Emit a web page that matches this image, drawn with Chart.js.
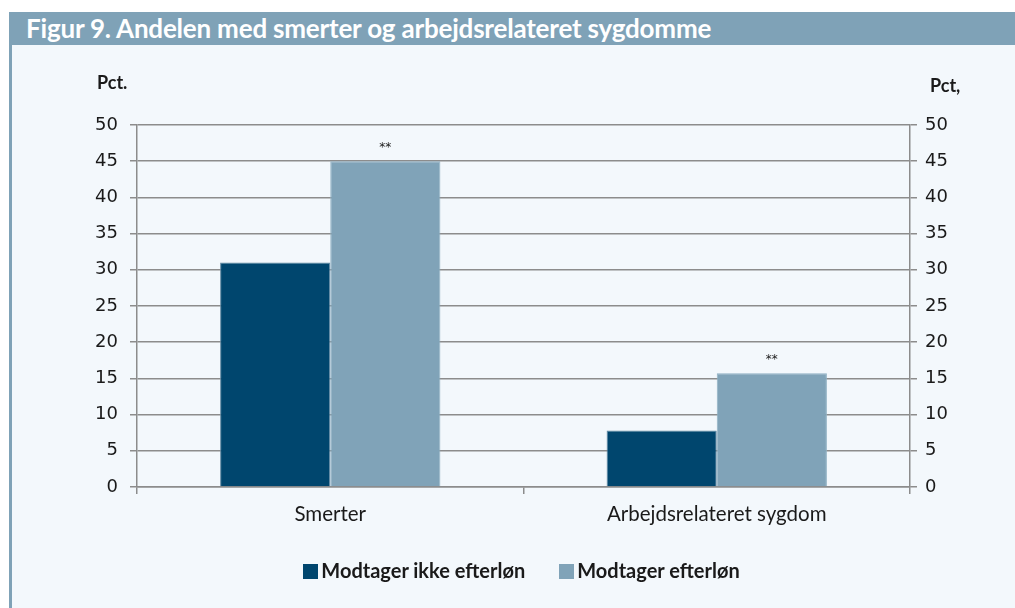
<!DOCTYPE html>
<html>
<head>
<meta charset="utf-8">
<script src="https://cdn.jsdelivr.net/npm/chart.js@4"></script>
<style>
	body { margin: 0; background: #ffffff; width: 1015px; height: 608px; overflow: hidden; }
	#title {
		position: absolute; left: 9px; top: 12px; width: 1006px; height: 33px;
		background: #7fa2b7; color: #ffffff;
		font: bold 26px Lato, sans-serif; line-height: 33px; padding-left: 17px; box-sizing: border-box;
		letter-spacing: -0.2px;
	}
	#panel {
		position: absolute; left: 9px; top: 45px; width: 1006px; height: 563px;
		background: #f3f8fc; border-left: 3px solid #7fa2b7; box-sizing: border-box;
	}
	#wrap { position: absolute; left: 0; top: 0; width: 1003px; height: 563px; }
	#legend {
		position: absolute; left: 0; top: 513px; width: 1003px; text-align: center;
		font: bold 20px Lato, sans-serif; color: #1a1a1a; padding-left: 16px; box-sizing: border-box;
	}
	#legend span.item { display: inline-block; margin: 0 17px; }
	#legend span.box { display: inline-block; width: 15px; height: 15px; margin-right: 3px; vertical-align: -1px; }
</style>
</head>
<body>
<div id="title">Figur 9. Andelen med smerter og arbejdsrelateret sygdomme</div>
<div id="panel"><div id="wrap"><canvas id="chart"></canvas></div><div id="legend"></div></div>
<script>
const categories = ["Smerter", "Arbejdsrelateret sygdom"]
const ikkeEfterlon = [31, 7.8]
const efterlon = [45, 15.7]
const efterlonMarks = ["**", "**"]

const gridColor = "#8c8c8c"
const tickFont = { family: "'DejaVu Sans', sans-serif", size: 18 }

const overlay = {
	id: "overlay",
	afterDatasetsDraw(chart) {
		const ctx = chart.ctx
		const area = chart.chartArea
		ctx.save()
		ctx.fillStyle = "#1a1a1a"
		ctx.font = "bold 18px Lato, sans-serif"
		ctx.textBaseline = "middle"
		ctx.textAlign = "left"
		ctx.fillText("Pct.", area.left - 40, 38)
		ctx.fillText("Pct,", area.right + 20, 41)
		ctx.font = "12px 'DejaVu Sans', sans-serif"
		ctx.textAlign = "center"
		chart.getDatasetMeta(1).data.forEach((bar, i) => {
			ctx.fillText(efterlonMarks[i], bar.x, bar.y - 13)
		})
		ctx.restore()
	}
}

const chart = new Chart(document.getElementById("chart").getContext("2d"), {
	type: "bar",
	data: {
		labels: categories,
		datasets: [
			{
				label: "Modtager ikke efterløn",
				data: ikkeEfterlon,
				backgroundColor: "#00466e",
				borderColor: "#5f87a0",
				borderWidth: 1
			},
			{
				label: "Modtager efterløn",
				data: efterlon,
				backgroundColor: "#80a3b8",
				borderColor: "#8fb0c3",
				borderWidth: 1
			}
		]
	},
	plugins: [overlay],
	options: {
		responsive: true,
		maintainAspectRatio: false,
		animation: false,
		layout: {
			padding: { top: 80, bottom: 57, left: 0, right: 0 }
		},
		datasets: {
			bar: {
				categoryPercentage: 0.57,
				barPercentage: 1
			}
		},
		scales: {
			x: {
				offset: true,
				afterFit(scale) { scale.height = 64 },
				grid: {
					offset: true,
					drawOnChartArea: false,
					drawTicks: true,
					tickLength: 7,
					color: gridColor,
					lineWidth: 1.5
				},
				border: { color: gridColor, width: 1.5 },
				ticks: {
					color: "#1a1a1a",
					padding: 8,
					font: { family: "Lato, sans-serif", size: 20.5 }
				}
			},
			y: {
				min: 0,
				max: 50,
				position: "left",
				afterFit(scale) { scale.width = 125 },
				grid: {
					color: gridColor,
					lineWidth: 1.5,
					tickLength: 7
				},
				border: { color: gridColor, width: 1.5 },
				ticks: {
					stepSize: 5,
					color: "#1a1a1a",
					padding: 12,
					font: tickFont
				}
			},
			y2: {
				min: 0,
				max: 50,
				position: "right",
				afterFit(scale) { scale.width = 105 },
				grid: {
					drawOnChartArea: false,
					color: gridColor,
					lineWidth: 1.5,
					tickLength: 7
				},
				border: { color: gridColor, width: 1.5 },
				ticks: {
					stepSize: 5,
					color: "#1a1a1a",
					padding: 8,
					font: tickFont
				}
			}
		},
		plugins: {
			legend: { display: false },
			tooltip: { enabled: false }
		}
	}
})

document.getElementById("legend").innerHTML = chart.data.datasets.map(ds =>
	'<span class="item"><span class="box" style="background:' + ds.backgroundColor + '"></span>' + ds.label + '</span>'
).join("")
</script>
</body>
</html>
